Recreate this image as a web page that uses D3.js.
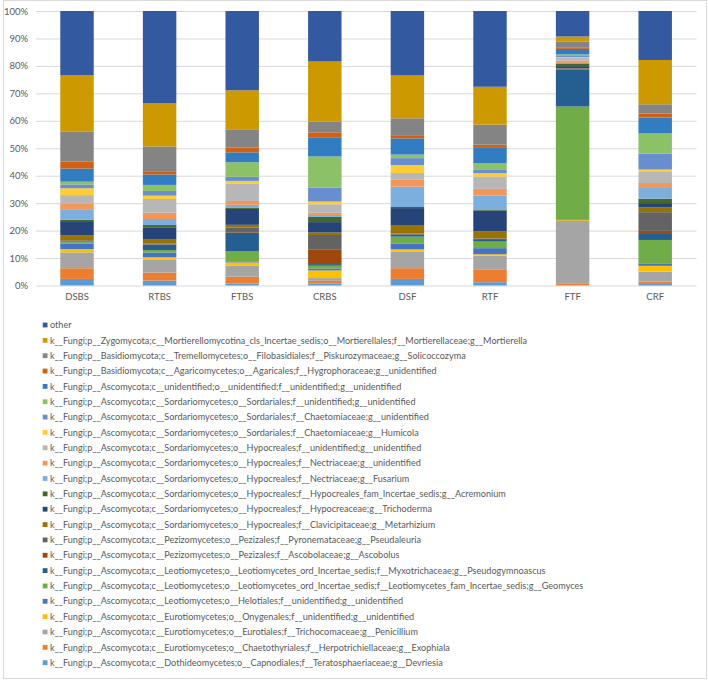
<!DOCTYPE html>
<html><head><meta charset="utf-8">
<script src="https://cdn.jsdelivr.net/npm/d3@7"></script>
<style>
body{margin:0;background:#fff}
svg text{font-family:Lato,"Open Sans",sans-serif;fill:#595959}
</style>
</head><body><svg id="c" width="708" height="680"></svg>
<script>
const categories = ["DSBS","RTBS","FTBS","CRBS","DSF","RTF","FTF","CRF"];

// series in stacking order (bottom to top)
const seriesNames = [
"k__Fungi;p__Ascomycota;c__Dothideomycetes;o__Capnodiales;f__Teratosphaeriaceae;g__Devriesia",
"k__Fungi;p__Ascomycota;c__Eurotiomycetes;o__Chaetothyriales;f__Herpotrichiellaceae;g__Exophiala",
"k__Fungi;p__Ascomycota;c__Eurotiomycetes;o__Eurotiales;f__Trichocomaceae;g__Penicillium",
"k__Fungi;p__Ascomycota;c__Eurotiomycetes;o__Onygenales;f__unidentified;g__unidentified",
"k__Fungi;p__Ascomycota;c__Leotiomycetes;o__Helotiales;f__unidentified;g__unidentified",
"k__Fungi;p__Ascomycota;c__Leotiomycetes;o__Leotiomycetes_ord_Incertae_sedis;f__Leotiomycetes_fam_Incertae_sedis;g__Geomyces",
"k__Fungi;p__Ascomycota;c__Leotiomycetes;o__Leotiomycetes_ord_Incertae_sedis;f__Myxotrichaceae;g__Pseudogymnoascus",
"k__Fungi;p__Ascomycota;c__Pezizomycetes;o__Pezizales;f__Ascobolaceae;g__Ascobolus",
"k__Fungi;p__Ascomycota;c__Pezizomycetes;o__Pezizales;f__Pyronemataceae;g__Pseudaleuria",
"k__Fungi;p__Ascomycota;c__Sordariomycetes;o__Hypocreales;f__Clavicipitaceae;g__Metarhizium",
"k__Fungi;p__Ascomycota;c__Sordariomycetes;o__Hypocreales;f__Hypocreaceae;g__Trichoderma",
"k__Fungi;p__Ascomycota;c__Sordariomycetes;o__Hypocreales;f__Hypocreales_fam_Incertae_sedis;g__Acremonium",
"k__Fungi;p__Ascomycota;c__Sordariomycetes;o__Hypocreales;f__Nectriaceae;g__Fusarium",
"k__Fungi;p__Ascomycota;c__Sordariomycetes;o__Hypocreales;f__Nectriaceae;g__unidentified",
"k__Fungi;p__Ascomycota;c__Sordariomycetes;o__Hypocreales;f__unidentified;g__unidentified",
"k__Fungi;p__Ascomycota;c__Sordariomycetes;o__Sordariales;f__Chaetomiaceae;g__Humicola",
"k__Fungi;p__Ascomycota;c__Sordariomycetes;o__Sordariales;f__Chaetomiaceae;g__unidentified",
"k__Fungi;p__Ascomycota;c__Sordariomycetes;o__Sordariales;f__unidentified;g__unidentified",
"k__Fungi;p__Ascomycota;c__unidentified;o__unidentified;f__unidentified;g__unidentified",
"k__Fungi;p__Basidiomycota;c__Agaricomycetes;o__Agaricales;f__Hygrophoraceae;g__unidentified",
"k__Fungi;p__Basidiomycota;c__Tremellomycetes;o__Filobasidiales;f__Piskurozymaceae;g__Solicoccozyma",
"k__Fungi;p__Zygomycota;c__Mortierellomycotina_cls_Incertae_sedis;o__Mortierellales;f__Mortierellaceae;g__Mortierella",
"other"
];

const seriesColors = ["#5B9BD5","#ED7D31","#A5A5A5","#FFC000","#4472C4","#70AD47","#255E91","#9E480E","#636363","#997300","#264478","#43682B","#7CAFDD","#F1975A","#B7B7B7","#FFCD33","#698ED0","#8CC168","#327DC2","#D26012","#848484","#CC9A00","#335AA1"];

// relative abundance (%) per sample, in stacking order
const DSBS = [2.4,3.9,5.8,1.2,1.9,0.6,0.3,0.1,0.3,1.9,5.1,0.5,3.6,2.2,3.2,2.5,1.4,1.0,4.8,2.6,10.8,20.6,23.5];
const RTBS = [1.8,2.9,4.6,1.0,1.7,0.9,2.0,0.1,0.2,1.7,4.1,1.0,2.2,2.3,5.0,1.2,1.7,2.2,3.8,1.2,9.0,15.7,33.6];
const FTBS = [0.7,2.5,4.1,1.1,0.2,3.8,6.9,0.2,1.6,1.0,5.8,0.5,1.0,1.4,6.2,1.1,1.5,5.3,3.6,1.7,6.5,14.4,28.9];
const CRBS = [0.7,1.0,1.0,2.8,0.7,1.0,0.6,5.2,5.4,0.9,3.8,1.9,0.7,0.8,3.1,1.0,5.1,11.3,7.0,1.8,3.9,21.9,18.4];
const DSF  = [2.4,3.9,6.1,0.8,2.0,2.6,0.8,0.1,0.2,2.9,6.4,0.4,7.4,2.5,2.5,2.9,2.5,1.3,5.9,0.9,6.4,15.6,23.5];
const RTF  = [1.2,4.5,5.2,0.5,2.2,2.4,0.9,0.1,0.2,2.5,7.6,0.4,5.1,2.4,4.5,1.2,1.2,2.4,5.9,0.9,7.3,13.8,27.6];
const FTF  = [0.1,0.5,22.9,0.3,0.1,41.3,13.3,0.1,0.3,0.2,0.8,1.0,0.2,0.8,1.0,0.3,0.4,0.6,2.0,0.4,2.2,1.9,9.3];
const CRF  = [0.85,0.6,3.6,2.1,0.9,8.5,2.5,0.8,6.8,1.7,1.6,1.6,4.2,1.5,4.0,0.9,5.8,7.3,5.8,1.4,3.4,16.1,17.8];

const yTickValues = [0,0.1,0.2,0.3,0.4,0.5,0.6,0.7,0.8,0.9,1];
const yTickLabels = ["0%","10%","20%","30%","40%","50%","60%","70%","80%","90%","100%"];

const valuesByCategory = [DSBS,RTBS,FTBS,CRBS,DSF,RTF,FTF,CRF];
const rows = categories.map((c,i)=>{const r={category:c}; seriesNames.forEach((s,j)=>{r[s]=valuesByCategory[i][j];}); return r;});

const svg = d3.select("#c");
svg.append("rect").attr("x",3.5).attr("y",0.5).attr("width",703).attr("height",678).attr("fill","#fff").attr("stroke","#D9D9D9");

const x = d3.scaleBand().domain(categories).range([35.7,696.5]).paddingInner(0.595).paddingOuter(0.2975);
const y = d3.scaleLinear().domain([0,1]).range([285.5,11]);
const color = d3.scaleOrdinal().domain(seriesNames).range(seriesColors);

const yAxis = svg.append("g").attr("transform","translate(35.7,0)")
  .call(d3.axisLeft(y).tickValues(yTickValues).tickSize(-(696.5-35.7)).tickPadding(7.5)
        .tickFormat((d,i)=>yTickLabels[i]));
yAxis.select(".domain").remove();
yAxis.selectAll("line").attr("stroke","#D9D9D9");
yAxis.selectAll("text").style("font-size","9.5px");

const stacked = d3.stack().keys(seriesNames).offset(d3.stackOffsetExpand)(rows);
svg.append("g").selectAll("g").data(stacked).join("g").attr("fill",d=>color(d.key))
  .selectAll("rect").data(d=>d).join("rect")
  .attr("x",d=>x(d.data.category)).attr("width",x.bandwidth())
  .attr("y",d=>y(d[1])).attr("height",d=>y(d[0])-y(d[1]));

const xAxis = svg.append("g").attr("transform","translate(0,285.5)")
  .call(d3.axisBottom(x).tickSize(0).tickPadding(8));
xAxis.select(".domain").remove();
xAxis.selectAll("text").style("font-size","9.5px");

// legend (reverse order, top = last series)
const legendItems = seriesNames.slice().reverse();
const lg = svg.append("g").selectAll("g").data(legendItems).join("g")
  .attr("transform",(d,i)=>`translate(0,${325+15.35*i})`);
lg.append("rect").attr("x",42.7).attr("y",-2.4).attr("width",4.8).attr("height",4.8).attr("fill",d=>color(d));
lg.append("text").attr("x",50).attr("y",0).attr("dy","0.35em").style("font-size","9.1px").text(d=>d);
</script></body></html>
